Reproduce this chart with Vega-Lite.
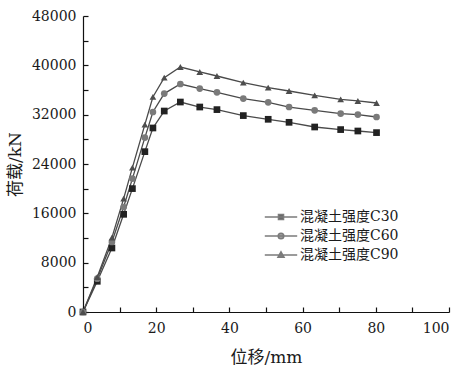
{
  "$schema": "https://vega.github.io/schema/vega-lite/v6.json",
  "width": 366,
  "height": 296,
  "autosize": {"type": "none"},
  "padding": {"left": 83, "top": 16, "right": 16, "bottom": 54},
  "background": "white",
  "config": {
    "view": {"stroke": null},
    "axis": {
      "grid": false,
      "domainColor": "#111",
      "tickColor": "#111",
      "labelColor": "#1a1a1a",
      "titleColor": "#1a1a1a",
      "labelFont": "DejaVu Serif",
      "labelFontSize": 14,
      "titleFont": "DejaVu Serif, Noto Sans CJK SC",
      "titleFontSize": 17,
      "titleFontWeight": "normal",
      "domainWidth": 1.2,
      "tickWidth": 1.2
    },
    "legend": {
      "title": null,
      "labelFont": "DejaVu Serif, Noto Sans CJK SC",
      "labelFontSize": 14,
      "labelColor": "#1a1a1a",
      "labelOffset": 9,
      "rowPadding": 2,
      "symbolSize": 324,
      "padding": 0
    }
  },
  "data": {
    "values": [
      {"s": "混凝土强度C30", "x": 0, "y": 0},
      {"s": "混凝土强度C30", "x": 3.9, "y": 4980},
      {"s": "混凝土强度C30", "x": 7.9, "y": 10380},
      {"s": "混凝土强度C30", "x": 11.1, "y": 15840},
      {"s": "混凝土强度C30", "x": 13.5, "y": 20010},
      {"s": "混凝土强度C30", "x": 16.9, "y": 26000},
      {"s": "混凝土强度C30", "x": 19.1, "y": 29840},
      {"s": "混凝土强度C30", "x": 22.2, "y": 32590},
      {"s": "混凝土强度C30", "x": 26.6, "y": 34050},
      {"s": "混凝土强度C30", "x": 31.9, "y": 33240},
      {"s": "混凝土强度C30", "x": 36.6, "y": 32820},
      {"s": "混凝土强度C30", "x": 43.8, "y": 31850},
      {"s": "混凝土强度C30", "x": 50.6, "y": 31250},
      {"s": "混凝土强度C30", "x": 56.3, "y": 30760},
      {"s": "混凝土强度C30", "x": 63.3, "y": 30000},
      {"s": "混凝土强度C30", "x": 70.4, "y": 29580},
      {"s": "混凝土强度C30", "x": 75.1, "y": 29350},
      {"s": "混凝土强度C30", "x": 80.2, "y": 29090},
      {"s": "混凝土强度C60", "x": 0, "y": 0},
      {"s": "混凝土强度C60", "x": 3.9, "y": 5410},
      {"s": "混凝土强度C60", "x": 7.9, "y": 11350},
      {"s": "混凝土强度C60", "x": 11.1, "y": 17030},
      {"s": "混凝土强度C60", "x": 13.5, "y": 21630},
      {"s": "混凝土强度C60", "x": 16.9, "y": 28280},
      {"s": "混凝土强度C60", "x": 19.1, "y": 32430},
      {"s": "混凝土强度C60", "x": 22.2, "y": 35420},
      {"s": "混凝土强度C60", "x": 26.6, "y": 36970},
      {"s": "混凝土强度C60", "x": 31.9, "y": 36230},
      {"s": "混凝土强度C60", "x": 36.6, "y": 35630},
      {"s": "混凝土强度C60", "x": 43.8, "y": 34610},
      {"s": "混凝土强度C60", "x": 50.6, "y": 34010},
      {"s": "混凝土强度C60", "x": 56.3, "y": 33240},
      {"s": "混凝土强度C60", "x": 63.3, "y": 32710},
      {"s": "混凝土强度C60", "x": 70.4, "y": 32170},
      {"s": "混凝土强度C60", "x": 75.1, "y": 32010},
      {"s": "混凝土强度C60", "x": 80.2, "y": 31620},
      {"s": "混凝土强度C90", "x": 0, "y": 0},
      {"s": "混凝土强度C90", "x": 3.9, "y": 5680},
      {"s": "混凝土强度C90", "x": 7.9, "y": 12060},
      {"s": "混凝土强度C90", "x": 11.1, "y": 18390},
      {"s": "混凝土强度C90", "x": 13.5, "y": 23420},
      {"s": "混凝土强度C90", "x": 16.9, "y": 30390},
      {"s": "混凝土强度C90", "x": 19.1, "y": 34870},
      {"s": "混凝土强度C90", "x": 22.2, "y": 38010},
      {"s": "混凝土强度C90", "x": 26.6, "y": 39730},
      {"s": "混凝土强度C90", "x": 31.9, "y": 38920},
      {"s": "混凝土强度C90", "x": 36.6, "y": 38270},
      {"s": "混凝土强度C90", "x": 43.8, "y": 37200},
      {"s": "混凝土强度C90", "x": 50.6, "y": 36390},
      {"s": "混凝土强度C90", "x": 56.3, "y": 35840},
      {"s": "混凝土强度C90", "x": 63.3, "y": 35140},
      {"s": "混凝土强度C90", "x": 70.4, "y": 34490},
      {"s": "混凝土强度C90", "x": 75.1, "y": 34220},
      {"s": "混凝土强度C90", "x": 80.2, "y": 33890}
    ]
  },
  "encoding": {
    "x": {
      "field": "x", "type": "quantitative",
      "scale": {"domain": [0, 100], "nice": false, "zero": true},
      "axis": {
        "title": "位移/mm",
        "values": [0, 10, 20, 30, 40, 50, 60, 70, 80, 90, 100],
        "labelExpr": "datum.value % 20 === 0 ? datum.label : ''",
        "tickSize": -5,
        "labelPadding": 14,
        "titlePadding": 14
      }
    },
    "y": {
      "field": "y", "type": "quantitative",
      "scale": {"domain": [0, 48000], "nice": false},
      "axis": {
        "title": "荷载/kN",
        "values": [0, 4000, 8000, 12000, 16000, 20000, 24000, 28000, 32000, 36000, 40000, 44000, 48000],
        "labelExpr": "datum.value % 8000 === 0 ? datum.label : ''",
        "format": "d",
        "tickSize": -5,
        "labelPadding": 12,
        "titlePadding": 7
      }
    }
  },
  "layer": [
    {
      "mark": {"type": "line", "color": "#4a4a4a", "strokeWidth": 1.3},
      "encoding": {"detail": {"field": "s"}}
    },
    {
      "mark": {"type": "point", "filled": true, "size": 45, "opacity": 1},
      "encoding": {
        "color": {
          "field": "s", "type": "nominal",
          "scale": {"domain": ["混凝土强度C30", "混凝土强度C60", "混凝土强度C90"], "range": ["#222222", "#7a7a7a", "#4d4d4d"]},
          "legend": null
        },
        "shape": {
          "field": "s", "type": "nominal",
          "scale": {"domain": ["混凝土强度C30", "混凝土强度C60", "混凝土强度C90"], "range": ["square", "circle", "triangle-up"]},
          "legend": null
        }
      }
    },
    {
      "transform": [{"filter": "false"}],
      "mark": {"type": "point", "filled": true, "stroke": "#444444", "strokeWidth": 1},
      "encoding": {
        "color": {
          "field": "s", "type": "nominal",
          "scale": {"domain": ["混凝土强度C30", "混凝土强度C60", "混凝土强度C90"], "range": ["#222222", "#7a7a7a", "#4d4d4d"]},
          "legend": {"orient": "none", "legendX": 188, "legendY": 191}
        },
        "shape": {
          "field": "s", "type": "nominal",
          "scale": {"domain": ["混凝土强度C30", "混凝土强度C60", "混凝土强度C90"], "range": ["M-1.8,0H1.8M-0.28,-0.28H0.28V0.28H-0.28Z", "M-1.8,0H1.8M0.31,0A0.31,0.31 0 1 1 -0.31,0A0.31,0.31 0 1 1 0.31,0Z", "M-1.8,0H1.8M0,-0.36L0.34,0.26H-0.34Z"]},
          "legend": {"orient": "none", "legendX": 188, "legendY": 191}
        }
      }
    }
  ],
  "resolve": {"scale": {"color": "independent", "shape": "independent"}}
}
